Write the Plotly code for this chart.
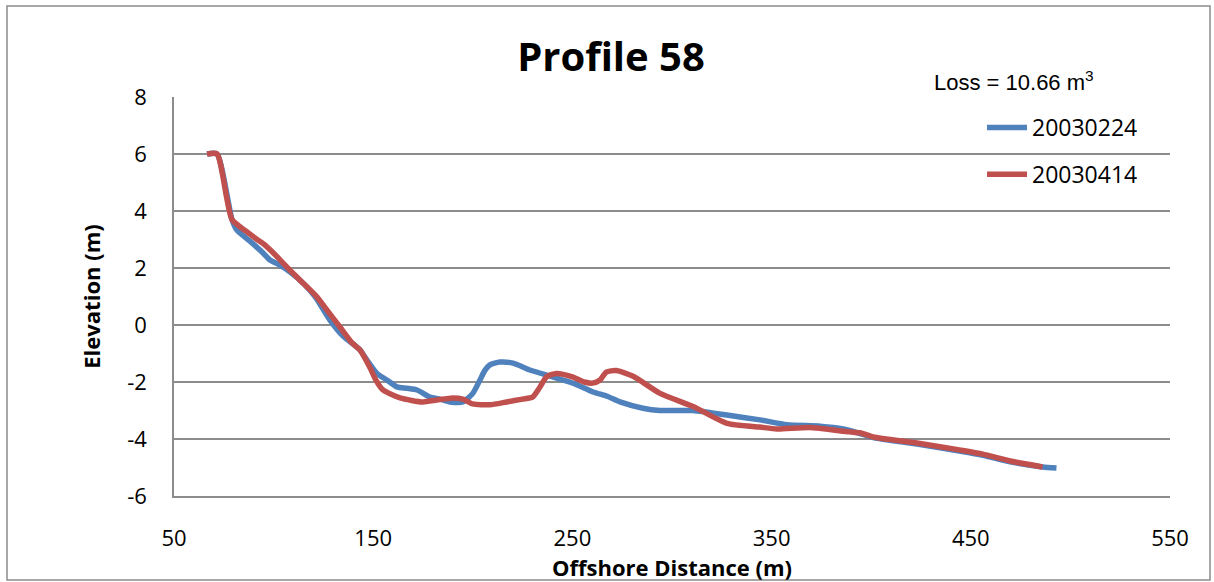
import plotly.graph_objects as go

# Beach profile 58 survey: offshore distance (m) vs elevation (m)
dist_0224 = [66.6, 71.6, 79.1, 81.6, 88.0, 94.7, 98.2, 103.2, 108.5, 114.8, 121.0, 128.3,
             135.0, 141.8, 143.4, 146.9, 151.9, 156.9, 161.9, 167.0, 172.0, 178.5, 183.5,
             188.5, 195.0, 200.0, 203.6, 206.0, 208.6, 213.6, 220.2, 228.7, 240.0, 250.3,
             260.4, 267.4, 273.9, 285.4, 294.0, 310.6, 327.6, 344.2, 357.7, 374.3, 386.0,
             394.0, 401.0, 423.0, 445.0, 456.0, 469.7, 486.0, 493.0]
elev_0224 = [6.0, 6.0, 3.7, 3.33, 2.95, 2.53, 2.28, 2.1, 1.85, 1.47, 0.98, 0.17,
             -0.4, -0.77, -0.88, -1.23, -1.7, -1.93, -2.17, -2.22, -2.28, -2.53, -2.6,
             -2.7, -2.7, -2.4, -1.93, -1.6, -1.4, -1.3, -1.34, -1.58, -1.82, -2.04,
             -2.35, -2.5, -2.7, -2.92, -3.0, -3.0, -3.16, -3.33, -3.5, -3.55, -3.65,
             -3.8, -3.95, -4.18, -4.43, -4.57, -4.8, -4.98, -5.02]

dist_0414 = [66.6, 71.6, 79.1, 86.0, 91.7, 95.7, 101.7, 106.7, 114.8, 121.8, 126.8, 133.3,
             139.4, 143.4, 148.4, 151.5, 154.9, 163.5, 175.0, 182.0, 190.0, 195.0, 200.0,
             208.6, 217.0, 225.0, 230.0, 233.5, 237.0, 242.0, 250.0, 256.0, 260.0, 263.9,
             267.0, 272.0, 280.5, 294.0, 310.6, 327.6, 344.0, 352.7, 369.0, 389.0, 394.4,
             401.0, 423.0, 445.0, 456.0, 469.7, 486.0]
elev_0414 = [6.0, 6.0, 3.7, 3.3, 3.0, 2.8, 2.4, 2.03, 1.47, 0.98, 0.52, -0.07,
             -0.63, -0.88, -1.5, -1.95, -2.28, -2.56, -2.7, -2.63, -2.56, -2.6, -2.77,
             -2.8, -2.7, -2.6, -2.53, -2.2, -1.82, -1.7, -1.82, -2.0, -2.04, -1.93,
             -1.65, -1.6, -1.8, -2.4, -2.86, -3.45, -3.58, -3.65, -3.6, -3.75, -3.78,
             -3.93, -4.14, -4.39, -4.53, -4.77, -4.98]

x_ticks = [50, 150, 250, 350, 450, 550]
y_ticks = [-6, -4, -2, 0, 2, 4, 6, 8]
y_tick_labels = ["-6", "-4", "-2", "0", "2", "4", "6", "8"]

BLUE = "#4F81BD"
RED = "#C0504D"
GRID = "#8C8C8C"
FONT = "'Open Sans', sans-serif"

fig = go.Figure()
fig.add_trace(go.Scatter(x=dist_0224, y=elev_0224, mode="lines", name="20030224",
                         legendgroup="a", line=dict(color=BLUE, width=5.5, shape="spline", smoothing=0.6)))
fig.add_trace(go.Scatter(x=dist_0414, y=elev_0414, mode="lines", name="20030414",
                         legendgroup="b", line=dict(color=RED, width=5.5, shape="spline", smoothing=0.6)))

L, R, T, B = 174, 44, 97, 86
W, H = 1214, 582
pw, ph = W - L - R, H - T - B

def px_x(px):
    return (px - L) / pw

def px_y(py):
    return (H - B - py) / ph

fig.update_layout(
    width=W, height=H,
    margin=dict(l=L, r=R, t=T, b=B, autoexpand=False),
    paper_bgcolor="white", plot_bgcolor="white",
    font=dict(family=FONT, size=22, color="black"),
    title=dict(text="<b>Profile 58</b>", x=px_x(611), xref="paper", xanchor="center",
               y=1 - 57 / H, yanchor="middle", font=dict(size=40, family=FONT)),
    showlegend=True,
    legend=dict(x=px_x(982), y=px_y(106), xanchor="left", yanchor="top",
                font=dict(size=23, family=FONT), bgcolor="rgba(0,0,0,0)",
                traceorder="grouped", tracegroupgap=14, itemwidth=40),
    xaxis=dict(range=[50, 550], tickvals=x_ticks, ticks="", showgrid=False,
               showline=True, linecolor=GRID, linewidth=1.5, zeroline=False,
               automargin=False,
               ticklabelstandoff=22, tickfont=dict(size=22, family=FONT),
               title=dict(text="<b>Offshore Distance (m)</b>", standoff=0,
                          font=dict(size=22, family=FONT))),
    yaxis=dict(range=[-6, 8], tickvals=y_ticks, ticktext=y_tick_labels, ticks="",
               showgrid=True, gridcolor=GRID, automargin=False,
               gridwidth=1.5, showline=True, linecolor=GRID, linewidth=1.5, zeroline=False,
               ticklabelstandoff=21, tickfont=dict(size=22, family=FONT),
               title=dict(text="<b>Elevation (m)</b>", standoff=20,
                          font=dict(size=22, family=FONT))),
    annotations=[dict(text="Loss = 10.66 m<sup>3</sup>", x=px_x(1014), y=px_y(81),
                      xref="paper", yref="paper", xanchor="center", yanchor="middle",
                      showarrow=False, font=dict(size=22, family="'Liberation Sans', Arial"))],
    shapes=[dict(type="rect", xref="paper", yref="paper",
                 x0=px_x(7), x1=px_x(1210), y0=px_y(580), y1=px_y(6),
                 line=dict(color=GRID, width=1.5), layer="below")],
)

fig.write_html("out.html")
